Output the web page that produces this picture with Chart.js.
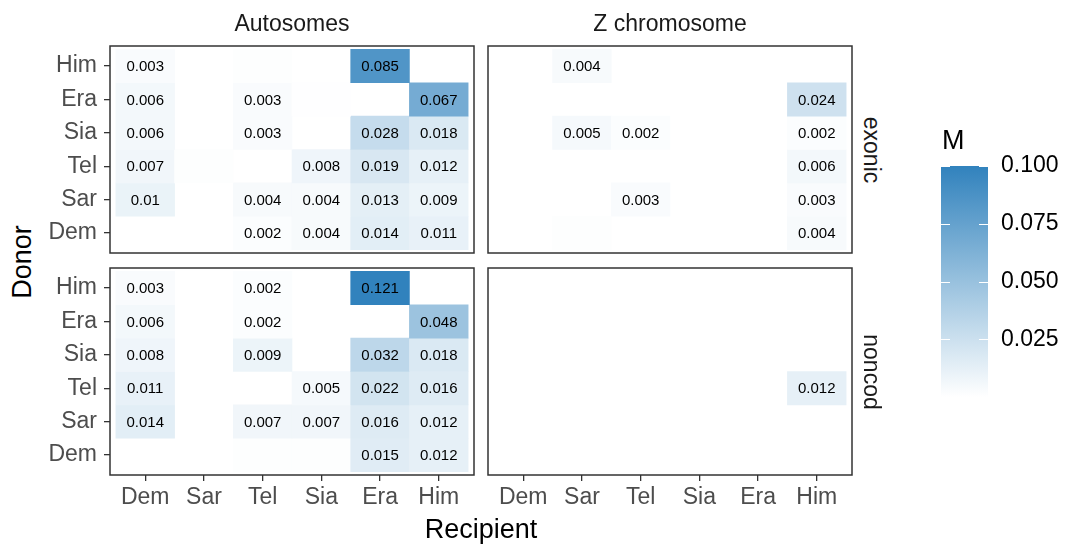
<!DOCTYPE html>
<html>
<head>
<meta charset="utf-8">
<script src="https://cdn.jsdelivr.net/npm/chart.js@4.4.1/dist/chart.umd.min.js"></script>
<style>
html, body { margin: 0; padding: 0; background: #fff; width: 1065px; height: 544px; overflow: hidden; }
.box { position: absolute; }
.txt { position: absolute; font-family: 'Liberation Sans', Arial, sans-serif; white-space: nowrap; line-height: 1; color: #1a1a1a; }
</style>
</head>
<body>
<div class="box" id="b-ae"><canvas id="c-ae"></canvas></div>
<div class="box" id="b-an"><canvas id="c-an"></canvas></div>
<div class="box" id="b-ze"><canvas id="c-ze"></canvas></div>
<div class="box" id="b-zn"><canvas id="c-zn"></canvas></div>
<div class="box" id="b-leg"><canvas id="c-leg"></canvas></div>

<div class="txt" style="left:292px;top:23px;font-size:23px;transform:translate(-50%,-50%)">Autosomes</div>
<div class="txt" style="left:670px;top:23px;font-size:23px;transform:translate(-50%,-50%)">Z chromosome</div>
<div class="txt" style="left:871px;top:150px;font-size:23px;transform:translate(-50%,-50%) rotate(90deg)">exonic</div>
<div class="txt" style="left:871px;top:372px;font-size:23px;transform:translate(-50%,-50%) rotate(90deg)">noncod</div>
<div class="txt" style="left:22px;top:262px;font-size:27px;color:#000;transform:translate(-50%,-50%) rotate(-90deg)">Donor</div>
<div class="txt" style="left:481px;top:529px;font-size:27px;color:#000;transform:translate(-50%,-50%)">Recipient</div>
<div class="txt" style="left:942px;top:140px;font-size:27px;color:#000;transform:translate(0,-50%)">M</div>

<script>
// populations, bottom-to-top for donors, left-to-right for recipients
const RECIPIENTS = ['Dem', 'Sar', 'Tel', 'Sia', 'Era', 'Him'];
const DONORS = ['Dem', 'Sar', 'Tel', 'Sia', 'Era', 'Him'];

// one row per donor (DONORS order), one value per recipient; null = no tile
const AUTO_EXONIC = [
    [null, null, 0.002, 0.004, 0.014, 0.011],
    [0.01, null, 0.004, 0.004, 0.013, 0.009],
    [0.007, 0.001, null, 0.008, 0.019, 0.012],
    [0.006, null, 0.003, null, 0.028, 0.018],
    [0.006, null, 0.003, 0.0005, null, 0.067],
    [0.003, null, 0.001, null, 0.085, null]
];
const AUTO_NONCOD = [
    [null, null, 0.001, 0.001, 0.015, 0.012],
    [0.014, null, 0.007, 0.007, 0.016, 0.012],
    [0.011, null, null, 0.005, 0.022, 0.016],
    [0.008, null, 0.009, null, 0.032, 0.018],
    [0.006, null, 0.002, null, null, 0.048],
    [0.003, null, 0.002, null, 0.121, null]
];
const Z_EXONIC = [
    [null, 0.001, null, null, null, 0.004],
    [null, null, 0.003, null, null, 0.003],
    [null, null, null, null, null, 0.006],
    [null, 0.005, 0.002, null, null, 0.002],
    [null, null, null, null, null, 0.024],
    [null, 0.004, null, null, null, null]
];
const Z_NONCOD = [
    [null, null, null, null, null, null],
    [null, null, null, null, null, null],
    [null, null, null, null, null, 0.012],
    [null, null, null, null, null, null],
    [null, null, null, null, null, null],
    [null, null, null, null, null, null]
];

const LEGEND_TICKS = [0.025, 0.05, 0.075, 0.1];
const M_MAX = 0.1;
const LABEL_MIN = 0.0015;

const FONT = "'Liberation Sans', Arial, sans-serif";
Chart.defaults.font.family = FONT;

const HIGH = [49, 130, 189];
function fillFor(v) {
    const t = Math.max(0, Math.min(v / M_MAX, 1));
    const c = HIGH.map(h => Math.round(255 - t * (255 - h)));
    return 'rgb(' + c.join(',') + ')';
}

// panel frame on top of the tiles
const panelBorder = {
    id: 'panelBorder',
    afterDraw: function (chart) {
        const a = chart.chartArea;
        const ctx = chart.ctx;
        ctx.save();
        ctx.strokeStyle = '#333333';
        ctx.lineWidth = 1.5;
        ctx.strokeRect(a.left, a.top, a.right - a.left, a.bottom - a.top);
        ctx.restore();
    }
};

// value text in the middle of each tile
const cellLabels = {
    id: 'cellLabels',
    afterDatasetsDraw: function (chart) {
        const ctx = chart.ctx;
        const meta = chart.getDatasetMeta(0);
        const pts = chart.data.datasets[0].data;
        ctx.save();
        ctx.font = '15px ' + FONT;
        ctx.fillStyle = '#000';
        ctx.textAlign = 'center';
        ctx.textBaseline = 'middle';
        meta.data.forEach(function (bar, i) {
            const v = pts[i].v;
            if (v < LABEL_MIN) return;
            const p = bar.getProps(['x', 'y', 'base'], true);
            ctx.fillText(String(+v.toFixed(3)), p.x, (p.y + p.base) / 2 + 1);
        });
        ctx.restore();
    }
};

function axisTicks(names, show, fixSize, isX) {
    return {
        type: 'linear',
        min: 0.4,
        max: 6.6,
        offset: false,
        beginAtZero: false,
        display: show,
        afterBuildTicks: function (s) { s.ticks = names.map((_, i) => ({ value: i + 1 })); },
        afterFit: function (s) {
            if (!show) return;
            if (isX) s.height = fixSize; else s.width = fixSize;
        },
        grid: { display: true, drawOnChartArea: false, drawTicks: true, tickLength: 6, color: '#333333', tickColor: '#333333', lineWidth: 1.3, offset: false },
        border: { display: false },
        ticks: {
            color: '#4d4d4d',
            font: { size: 23 },
            padding: isX ? 3 : 7,
            autoSkip: false,
            maxRotation: 0,
            callback: function (v) { return names[Math.round(v) - 1]; }
        }
    };
}

const PAD = 24;

function makePanel(key, matrix, pos, showX, showY) {
    const box = document.getElementById('b-' + key);
    box.style.left = pos.left + 'px';
    box.style.top = pos.top + 'px';
    const canvas = document.getElementById('c-' + key);
    canvas.width = pos.w;
    canvas.height = pos.h;

    const points = [];
    matrix.forEach(function (row, r) {
        row.forEach(function (v, c) {
            if (v === null) return;
            points.push({ x: c + 1, y: [r + 0.5, r + 1.5], v: v });
        });
    });

    return new Chart(canvas.getContext('2d'), {
        type: 'bar',
        data: {
            datasets: [{
                data: points,
                backgroundColor: points.map(p => fillFor(p.v)),
                borderWidth: 0,
                barPercentage: 1,
                categoryPercentage: 1,
                grouped: false
            }]
        },
        options: {
            responsive: false,
            animation: false,
            layout: { padding: { left: showY ? 0 : 2, top: PAD, right: 2, bottom: showX ? 2 : PAD } },
            plugins: { legend: { display: false }, tooltip: { enabled: false } },
            scales: {
                x: axisTicks(RECIPIENTS, showX, 41, true),
                y: axisTicks(DONORS, showY, 70, false)
            }
        },
        plugins: [cellLabels, panelBorder]
    });
}

// chart areas: left column x 110-474, right column x 488-852; rows y 46-253 and 268-475
makePanel('ae', AUTO_EXONIC, { left: 40, top: 46 - PAD, w: 436, h: PAD + 207 + PAD }, false, true);
makePanel('an', AUTO_NONCOD, { left: 40, top: 268 - PAD, w: 436, h: PAD + 207 + 41 + 2 }, true, true);
makePanel('ze', Z_EXONIC, { left: 486, top: 46 - PAD, w: 368, h: PAD + 207 + PAD }, false, false);
makePanel('zn', Z_NONCOD, { left: 486, top: 268 - PAD, w: 368, h: PAD + 207 + 41 + 2 }, true, false);

// colour bar
(function () {
    const LPAD = 30;
    const box = document.getElementById('b-leg');
    box.style.left = '941px';
    box.style.top = (166 - LPAD) + 'px';
    const canvas = document.getElementById('c-leg');
    canvas.width = 119;
    canvas.height = 231 + 2 * LPAD;

    const barTicks = {
        id: 'barTicks',
        afterDatasetsDraw: function (chart) {
            const ctx = chart.ctx;
            const a = chart.chartArea;
            const ys = chart.scales.y;
            ctx.save();
            ctx.strokeStyle = '#ffffff';
            ctx.lineWidth = 1.2;
            LEGEND_TICKS.forEach(function (t) {
                const y = Math.round(ys.getPixelForValue(t)) + 0.5;
                ctx.beginPath();
                ctx.moveTo(a.left, y); ctx.lineTo(a.left + 9, y);
                ctx.moveTo(a.right - 9, y); ctx.lineTo(a.right, y);
                ctx.stroke();
            });
            ctx.restore();
        }
    };

    new Chart(canvas.getContext('2d'), {
        type: 'bar',
        data: {
            labels: ['M'],
            datasets: [{
                data: [[0, M_MAX]],
                borderWidth: 0,
                barPercentage: 1,
                categoryPercentage: 1,
                backgroundColor: function (ctx) {
                    const a = ctx.chart.chartArea;
                    if (!a) return fillFor(M_MAX);
                    const g = ctx.chart.ctx.createLinearGradient(0, a.bottom, 0, a.top);
                    g.addColorStop(0, fillFor(0));
                    g.addColorStop(0.5, fillFor(M_MAX / 2));
                    g.addColorStop(1, fillFor(M_MAX));
                    return g;
                }
            }]
        },
        options: {
            responsive: false,
            animation: false,
            layout: { padding: { left: 0, top: LPAD, right: 0, bottom: LPAD } },
            plugins: { legend: { display: false }, tooltip: { enabled: false } },
            scales: {
                x: { display: false },
                y: {
                    position: 'right',
                    min: 0,
                    max: M_MAX,
                    afterBuildTicks: function (s) { s.ticks = LEGEND_TICKS.map(v => ({ value: v })); },
                    afterFit: function (s) { s.width = 72; },
                    grid: { display: false, drawTicks: false },
                    border: { display: false },
                    ticks: {
                        color: '#000',
                        font: { size: 23 },
                        padding: 13,
                        callback: function (v) { return v.toFixed(3); }
                    }
                }
            }
        },
        plugins: [barTicks]
    });
})();
</script>
</body>
</html>
